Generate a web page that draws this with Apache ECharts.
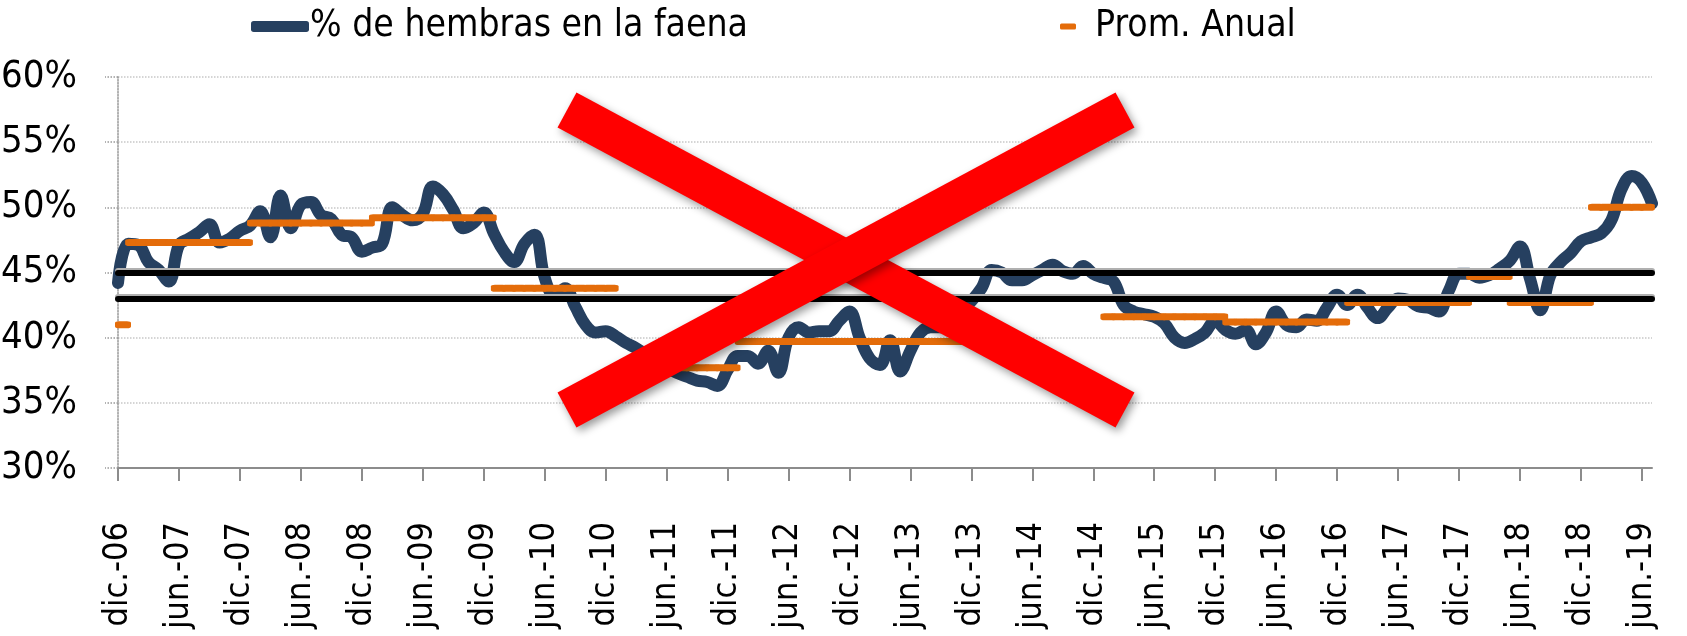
<!DOCTYPE html>
<html>
<head>
<meta charset="utf-8">
<style>
  html, body { margin: 0; padding: 0; background: #fff; }
  #chart { width: 1687px; height: 636px; }
</style>
<script src="https://cdn.jsdelivr.net/npm/echarts@6/dist/echarts.min.js"></script>
</head>
<body>
<div id="chart"></div>
<script>
// % de hembras en la faena, mensual desde dic.-06 hasta jul.-19
const hembras = [
  44.2, 47.2, 47.1, 45.8, 45.2, 44.3, 47.1, 47.6, 48.1, 48.7, 47.3, 47.6,
  48.2, 48.6, 49.7, 47.7, 50.9, 48.4, 50.2, 50.4, 49.4, 49.1, 47.9, 47.7,
  46.6, 46.9, 47.2, 50.0, 49.4, 49.0, 49.5, 51.6, 51.0, 49.8, 48.4, 48.8,
  49.6, 48.0, 46.6, 45.8, 47.2, 47.9, 44.6, 43.2, 43.8, 42.4, 41.0, 40.4,
  40.5, 40.1, 39.6, 39.2, 38.7, 38.2, 37.7, 37.3, 37.0, 36.7, 36.6, 36.3,
  37.5, 38.6, 38.6, 38.0, 39.0, 37.3, 40.0, 40.8, 40.4, 40.5, 40.5, 41.3,
  42.0, 40.0, 38.4, 37.9, 39.8, 37.4, 39.0, 40.4, 40.8, 40.8, 41.0, 42.0,
  42.8, 43.8, 45.2, 45.0, 44.4, 44.4, 44.8, 45.2, 45.6, 45.1, 44.9, 45.5,
  44.9, 44.6, 44.3, 42.5, 42.0, 41.8, 41.6, 41.1, 40.0, 39.6, 39.9, 40.4,
  41.3, 40.6, 40.3, 40.6, 39.5, 40.4, 42.0, 41.0, 40.8, 41.4, 41.3, 42.3,
  43.3, 42.5, 43.3, 42.3, 41.5, 42.3, 43.0, 42.9, 42.4, 42.3, 42.0, 43.6,
  44.9, 44.9, 44.6, 44.8, 45.3, 45.9, 47.0, 44.5, 42.1, 44.8, 45.8, 46.5,
  47.4, 47.7, 48.0, 49.0, 51.4, 52.4, 51.9, 50.3
];

// Promedio anual: periodo (desde, hasta) y valor
const promDesde = ['dic.-06', 'ene.-07', 'ene.-08', 'ene.-09', 'ene.-10', 'ene.-11', 'ene.-12', 'ene.-13',
  'ene.-14', 'ene.-15', 'ene.-16', 'ene.-17', 'ene.-18', 'may.-18', 'ene.-19'];
const promHasta = ['dic.-06', 'dic.-07', 'dic.-08', 'dic.-09', 'dic.-10', 'dic.-11', 'dic.-12', 'dic.-13',
  'dic.-14', 'dic.-15', 'dic.-16', 'dic.-17', 'abr.-18', 'dic.-18', 'jun.-19'];
const promValor = [41.0, 47.3, 48.8, 49.2, 43.8, 37.7, 39.7, 39.7, 45.0, 41.6, 41.2, 42.7, 44.7, 42.7, 50.0];

// lineas de referencia
const umbrales = [45, 43];

const mesesAbr = ['ene.', 'feb.', 'mar.', 'abr.', 'may.', 'jun.', 'jul.', 'ago.', 'sept.', 'oct.', 'nov.', 'dic.'];

const categorias = [];
for (let k = 0; k < hembras.length; k++) {
  const m = (11 + k) % 12;
  const y = 6 + Math.floor((11 + k) / 12);
  categorias.push(mesesAbr[m] + '-' + String(y).padStart(2, '0'));
}

const promAnual = categorias.map(() => null);
promValor.forEach((v, j) => {
  const a = categorias.indexOf(promDesde[j]);
  const b = categorias.indexOf(promHasta[j]);
  for (let k = a; k <= b; k++) promAnual[k] = v;
});

const NAVY = '#264060';
const ORANGE = '#E46C0A';
const narrow = "'Liberation Sans Narrow', 'DejaVu Sans Condensed', sans-serif";

const chart = echarts.init(document.getElementById('chart'), null, { renderer: 'canvas' });

chart.setOption({
  animation: false,
  backgroundColor: '#fff',
  grid: { left: 118, right: 35, top: 77, bottom: 168, containLabel: false, outerBoundsMode: 'none' },
  legend: [
    {
      left: 251, top: 8, padding: 0,
      data: [{ name: '% de hembras en la faena', icon: 'roundRect' }],
      itemWidth: 58, itemHeight: 11,
      textStyle: { fontFamily: narrow, fontSize: 37, color: '#000', padding: [0, 0, 0, -4] }
    },
    {
      left: 1060, top: 8, padding: 0,
      data: [{ name: 'Prom. Anual', icon: 'roundRect' }],
      itemWidth: 16, itemHeight: 6,
      textStyle: { fontFamily: narrow, fontSize: 37, color: '#000', padding: [0, 0, 0, 14] }
    }
  ],
  xAxis: {
    type: 'category',
    data: categorias,
    boundaryGap: false,
    axisLine: { lineStyle: { color: '#8c8c8c', width: 2 } },
    axisTick: { interval: 5, length: 13, lineStyle: { color: '#8c8c8c', width: 2 } },
    axisLabel: {
      interval: 5, rotate: 90, margin: 54,
      fontFamily: narrow, fontSize: 34, color: '#000'
    },
    splitLine: { show: false }
  },
  yAxis: {
    type: 'value',
    min: 30, max: 60, interval: 5,
    axisLine: { show: true, lineStyle: { color: '#999', type: 'dotted', width: 1.5 } },
    axisTick: { show: true, length: 13, lineStyle: { color: '#999', type: 'dotted', width: 1.5 } },
    axisLabel: { formatter: '{value}%', margin: 41, fontFamily: narrow, fontSize: 38, color: '#000' },
    splitLine: { lineStyle: { color: '#c8c8c8', type: 'dotted', width: 1.5 } }
  },
  series: [
    {
      type: 'line',
      data: [],
      silent: true,
      z: 1,
      markLine: {
        silent: true,
        symbol: ['none', 'none'],
        label: { show: false },
        lineStyle: { color: '#000', width: 6, type: 'solid', cap: 'round', shadowColor: '#b0b0b0', shadowOffsetY: -2 },
        data: umbrales.map(v => ({ yAxis: v }))
      }
    },
    {
      name: '% de hembras en la faena',
      type: 'line',
      data: hembras,
      smooth: 0.4,
      showSymbol: false,
      symbol: 'none',
      z: 2,
      itemStyle: { color: NAVY },
      lineStyle: { color: NAVY, width: 12, cap: 'round', join: 'round' }
    },
    {
      name: 'Prom. Anual',
      type: 'scatter',
      data: promAnual,
      symbol: 'roundRect',
      symbolSize: [16, 7],
      symbolOffset: [5, 0],
      z: 3,
      itemStyle: { color: ORANGE, opacity: 1 }
    }
  ],
  graphic: [
    {
      type: 'line', z: 100,
      shape: { x1: 567, y1: 110, x2: 1125, y2: 410 },
      style: { stroke: '#ff0000', lineWidth: 40, lineCap: 'butt',
        shadowBlur: 8, shadowOffsetX: 3, shadowOffsetY: 4, shadowColor: 'rgba(0,0,0,0.4)' }
    },
    {
      type: 'line', z: 100,
      shape: { x1: 567, y1: 410, x2: 1125, y2: 110 },
      style: { stroke: '#ff0000', lineWidth: 40, lineCap: 'butt',
        shadowBlur: 8, shadowOffsetX: 3, shadowOffsetY: 4, shadowColor: 'rgba(0,0,0,0.4)' }
    }
  ]
});

window.addEventListener('resize', () => chart.resize());
</script>
</body>
</html>
